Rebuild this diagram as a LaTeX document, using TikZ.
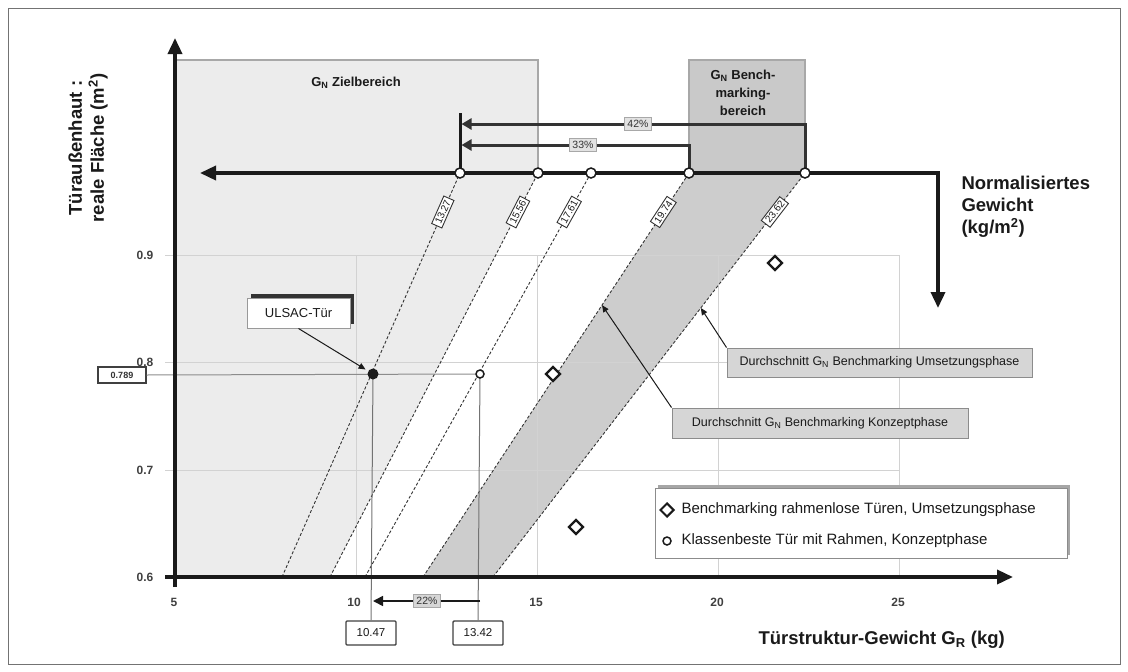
\documentclass[tikz,border=0pt]{standalone}
\usepackage{fontspec}
\setmainfont{Liberation Sans}
\usetikzlibrary{arrows.meta,shapes.geometric,calc,shadows}
\definecolor{zielfill}{HTML}{ECECEC}
\definecolor{bandfill}{HTML}{CDCDCD}
\definecolor{benchfill}{HTML}{C9C9C9}
\definecolor{edgegray}{HTML}{A8A8A8}
\definecolor{durchfill}{HTML}{D6D6D6}
\definecolor{pctfill}{HTML}{E2E2E2}
\definecolor{gridgray}{HTML}{D2D2D2}
\definecolor{ink}{HTML}{1A1A1A}
\begin{document}
\begin{tikzpicture}[x=1pt,y=-1pt,
  frame/.style={draw=black!55,line width=1pt},
  axisline/.style={line width=3.5pt,draw=ink},
  gridl/.style={draw=gridgray,line width=1pt},
  gline/.style={densely dashed,line width=0.9pt,draw=black!80},
  vallbl/.style={draw=black!80,fill=white,line width=0.9pt,font=\fontsize{10}{11}\selectfont,inner xsep=2.5pt,inner ysep=2pt,sloped,text=ink},
  ptmark/.style={circle,draw=ink,fill=white,line width=1.5pt,minimum size=10pt,inner sep=0pt},
  smallpt/.style={circle,draw=ink,fill=white,line width=1.5pt,minimum size=8pt,inner sep=0pt},
  dia/.style={diamond,draw=ink,fill=white,line width=2.2pt,minimum size=15pt,inner sep=0pt},
  dotmark/.style={circle,fill=ink,minimum size=11pt,inner sep=0pt},
  ticklbl/.style={font=\bfseries\fontsize{12}{14}\selectfont,text=black!75},
  title/.style={font=\bfseries\fontsize{18.5}{22}\selectfont,text=ink,align=left},
  regionlbl/.style={font=\bfseries\fontsize{13}{18}\selectfont,text=ink,align=center},
  pctlbl/.style={draw=edgegray,fill=pctfill,line width=1pt,font=\fontsize{10.5}{12}\selectfont,inner xsep=3pt,inner ysep=2.5pt,text=black!80},
  valbox/.style={draw=black!75,fill=white,line width=1.4pt,font=\fontsize{11.5}{13}\selectfont,minimum width=50pt,minimum height=24pt,inner sep=1pt,rounded corners=1pt,text=ink},
  durch/.style={draw=black!45,fill=durchfill,line width=1pt,font=\fontsize{12.5}{14}\selectfont,inner sep=0pt,text=ink},
  legtext/.style={font=\fontsize{15}{17}\selectfont,anchor=west,text=ink},
  ptr/.style={draw=ink,line width=1pt,-{Triangle[length=7pt,width=6pt]}},
  pctarrow/.style={draw=black!80,line width=3pt,-{Triangle[length=10pt,width=11pt]}},
]
\useasboundingbox (0,0) rectangle (1128,672);
\draw[frame] (8,8) rectangle (1120,664);

% line end points
\coordinate (b1) at (282,577); \coordinate (t1) at (460,173);
\coordinate (b2) at (330,577); \coordinate (t2) at (538,173);
\coordinate (b3) at (365,577); \coordinate (t3) at (591,173);
\coordinate (b4) at (423,577); \coordinate (t4) at (689,173);
\coordinate (b5) at (493,577); \coordinate (t5) at (805,173);

% regions
\fill[zielfill] (175,60) -- (538,60) -- (t2) -- (b2) -- (175,577) -- cycle;
\draw[edgegray,line width=1.2pt] (175,60) -- (538,60) -- (538,173);
\fill[bandfill] (b4) -- (t4) -- (t5) -- (b5) -- cycle;
\node[draw=edgegray,fill=benchfill,line width=1.2pt,minimum width=116pt,minimum height=113pt,inner sep=0pt] (bench) at (747,116.5) {};
\node[regionlbl] (ziel) at (356,83) {G\textsubscript{N} Zielbereich};
\node[regionlbl] (benchlbl) at (743,93) {G\textsubscript{N} Bench-\\marking-\\bereich};

% grid
\foreach \yy in {255,362,470} \draw[gridl] (165,\yy) -- (899,\yy);
\foreach \xx in {356,537,718,899} \draw[gridl] (\xx,255) -- (\xx,577);

% tick labels
\node[ticklbl] (y9) at (145,255) {0.9};
\node[ticklbl] (y8) at (145,362) {0.8};
\node[ticklbl] (y7) at (145,470) {0.7};
\node[ticklbl] (y6) at (145,577) {0.6};
\node[ticklbl] (x5) at (174,602) {5};
\node[ticklbl] (x10) at (354,602) {10};
\node[ticklbl] (x15) at (536,602) {15};
\node[ticklbl] (x20) at (717,602) {20};
\node[ticklbl] (x25) at (898,602) {25};

% G_N lines
\foreach \i in {1,...,5} \draw[gline] (b\i) -- (t\i);
\path (b1) -- (t1) node[vallbl,pos=0.9035] (l1) {13.27};
\path (b2) -- (t2) node[vallbl,pos=0.9035] (l2) {15.56};
\path (b3) -- (t3) node[vallbl,pos=0.9035] (l3) {17.61};
\path (b4) -- (t4) node[vallbl,pos=0.9035] (l4) {19.74};
\path (b5) -- (t5) node[vallbl,pos=0.9035] (l5) {23.62};
\path (b4) -- (t4) coordinate[pos=0.673] (a4);
\path (b5) -- (t5) coordinate[pos=0.666] (a5);

% 0.789 reference lines
\coordinate (u) at (373,374);
\coordinate (k) at (480,374);
\node[draw=black!75,fill=white,line width=1.2pt,font=\bfseries\fontsize{9}{10}\selectfont,minimum width=48pt,minimum height=16pt,inner sep=1pt,text=black!80] (v789) at (122,375) {0.789};
\draw[draw=black!45,line width=1pt] (v789.east) -- (k);
\node[valbox] (n1047) at (371,633) {10.47};
\node[valbox] (n1342) at (478,633) {13.42};
\draw[draw=black!55,line width=1pt] (u) -- (n1047.north);
\draw[draw=black!55,line width=1pt] (k) -- (n1342.north);
\coordinate (s22) at (480,601);
\coordinate (e22) at (373,601);
\draw[draw=ink,line width=1.6pt,-{Triangle[length=10pt,width=10pt]}] (s22) -- (e22);
\node[pctlbl,fill=durchfill] (p22) at (427,601) {22\%};

% axes
\draw[axisline,-{Triangle[length=16pt,width=14pt]}] (175,587) -- (175,38);
\draw[axisline,-{Triangle[length=16pt,width=14pt]}] (165,577) -- (1013,577);
\coordinate (nl) at (200,173);
\coordinate (nr) at (938,173);
\coordinate (nd) at (938,308);
\draw[axisline,{Triangle[length=16pt,width=14pt]}-{Triangle[length=16pt,width=14pt]}] (nl) -- (nr) -- (nd);

% 42% / 33%
\draw[draw=ink,line width=3pt] (t1) -- (460,113);
\coordinate (q42) at (461.5,124);
\coordinate (q33) at (461.5,145);
\draw[pctarrow] (t5) |- (q42);
\draw[pctarrow] (t4) |- (q33);
\node[pctlbl] (p42) at (638,124) {42\%};
\node[pctlbl] (p33) at (583,145) {33\%};

% points on normalised axis
\foreach \i in {1,...,5} \node[ptmark] (p\i) at (t\i) {};

% data points
\node[dotmark] (ud) at (u) {};
\node[smallpt] (kd) at (k) {};
\node[dia] (d1) at (775,263) {};
\node[dia] (d2) at (553,374) {};
\node[dia] (d3) at (576,527) {};

% ULSAC callout
\node[draw=black!40,fill=white,line width=1pt,minimum width=103pt,minimum height=30pt,inner sep=0pt,font=\fontsize{13}{15}\selectfont,text=ink,
  general shadow={fill=black!80,shadow xshift=4pt,shadow yshift=4pt}] (ul) at (298.5,313) {ULSAC-Tür};
\draw[ptr,shorten >=3pt] (ul.south) -- (ud);

% averages
\node[durch,minimum width=305pt,minimum height=29pt] (du) at (879.5,362.5) {Durchschnitt G\textsubscript{N} Benchmarking Umsetzungsphase};
\node[durch,minimum width=296pt,minimum height=30pt] (dk) at (820,423) {Durchschnitt G\textsubscript{N} Benchmarking Konzeptphase};
\draw[ptr] (du.north west) -- (a5);
\draw[ptr] (dk.north west) -- (a4);

% legend
\node[draw=black!45,fill=white,line width=1pt,minimum width=412pt,minimum height=70pt,inner sep=0pt,
  general shadow={fill=black!35,shadow xshift=3pt,shadow yshift=3pt}] (leg) at (861,523) {};
\node[dia,minimum size=14pt,line width=2pt] (ld) at (667,510) {};
\node[legtext] (lt1) at (678,510) {Benchmarking rahmenlose Türen, Umsetzungsphase};
\node[smallpt] (lc) at (667,541) {};
\node[legtext] (lt2) at (678,541) {Klassenbeste Tür mit Rahmen, Konzeptphase};

% axis titles
\node[title,anchor=west] (nt) at (958,207) {Normalisiertes\\Gewicht\\(kg/m\textsuperscript{2})};
\node[title,anchor=west] (xt) at (755,640) {Türstruktur-Gewicht G\textsubscript{R} (kg)};
\node[title,align=center,rotate=90] (yt) at (88,148) {Türaußenhaut :\\reale Fläche (m\textsuperscript{2})};
\end{tikzpicture}
\end{document}
